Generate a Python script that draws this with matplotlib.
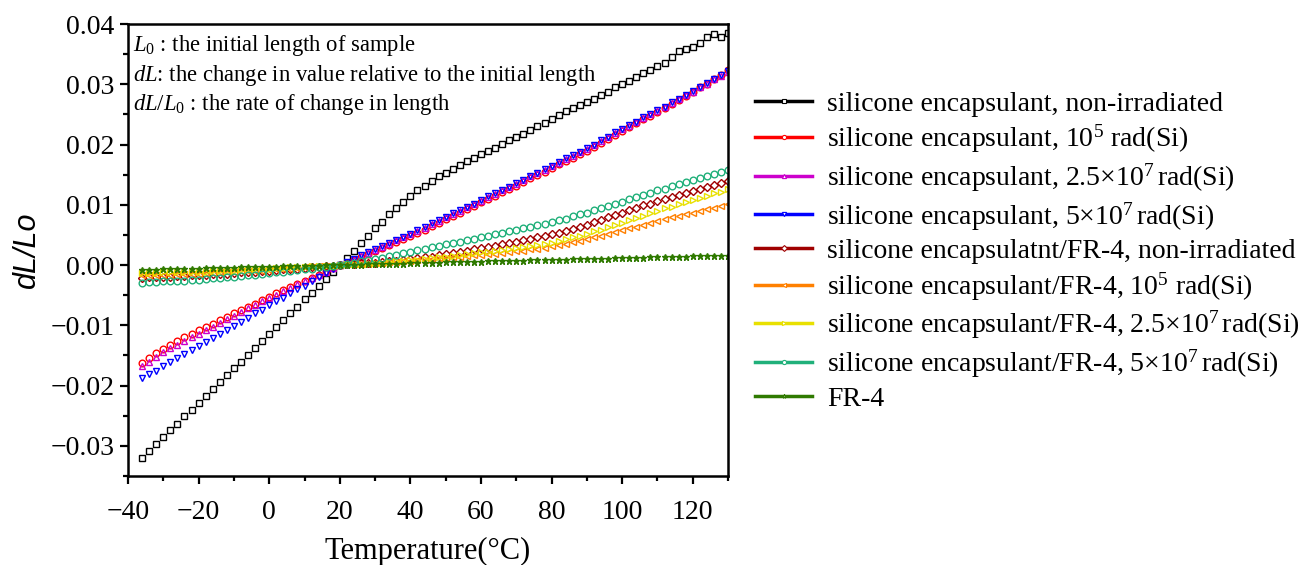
import numpy as np
import matplotlib
matplotlib.use("Agg")
import matplotlib.pyplot as plt
from matplotlib.lines import Line2D
from matplotlib.ticker import MultipleLocator

plt.rcParams["font.family"] = ["Liberation Serif", "DejaVu Serif"]
plt.rcParams["mathtext.fontset"] = "custom"
plt.rcParams["mathtext.rm"] = "Liberation Serif"
plt.rcParams["mathtext.it"] = "Liberation Serif:italic"

# temperature (°C), one reading every 2 degrees
temperature = np.arange(-36, 131, 2)

si_non_irr = [
    -0.0320, -0.0309, -0.0297, -0.0286, -0.0274, -0.0263, -0.0251, -0.0240, -0.0229,
    -0.0217, -0.0206, -0.0194, -0.0183, -0.0171, -0.0160, -0.0149, -0.0137, -0.0126,
    -0.0114, -0.0103, -0.0091, -0.0080, -0.0069, -0.0057, -0.0046, -0.0034, -0.0023,
    -0.0011, 0.0000,
    0.0012, 0.0024, 0.0037, 0.0049, 0.0061, 0.0072, 0.0084, 0.0095, 0.0105, 0.0115,
    0.0124, 0.0132, 0.0140, 0.0147, 0.0153, 0.0160, 0.0166, 0.0172, 0.0178, 0.0184,
    0.0189, 0.0195, 0.0201, 0.0207, 0.0212, 0.0218, 0.0224, 0.0230, 0.0236, 0.0243,
    0.0249, 0.0255, 0.0260, 0.0266, 0.0271, 0.0276, 0.0282, 0.0288, 0.0295, 0.0301,
    0.0306, 0.0312, 0.0318, 0.0324, 0.0330, 0.0336, 0.0346, 0.0355, 0.0358, 0.0362,
    0.0368, 0.0378, 0.0383, 0.0379, 0.0385,
]
si_1e5 = [
    -0.0163, -0.0154, -0.0146, -0.0139, -0.0132, -0.0126, -0.0120, -0.0114, -0.0108,
    -0.0102, -0.0097, -0.0091, -0.0086, -0.0080, -0.0075, -0.0069, -0.0064, -0.0058,
    -0.0053, -0.0047, -0.0042, -0.0037, -0.0031, -0.0026, -0.0021, -0.0016, -0.0010,
    -0.0005, 0.0000,
    0.0004, 0.0008, 0.0013, 0.0018, 0.0023, 0.0028, 0.0033, 0.0038, 0.0043, 0.0048,
    0.0054, 0.0059, 0.0065, 0.0070, 0.0076, 0.0082, 0.0087, 0.0093, 0.0098, 0.0104,
    0.0110, 0.0115, 0.0121, 0.0126, 0.0132, 0.0138, 0.0144, 0.0149, 0.0155, 0.0161,
    0.0167, 0.0173, 0.0178, 0.0184, 0.0190, 0.0196, 0.0203, 0.0209, 0.0216, 0.0222,
    0.0229, 0.0235, 0.0242, 0.0248, 0.0254, 0.0261, 0.0268, 0.0274, 0.0281, 0.0288,
    0.0295, 0.0301, 0.0308, 0.0315, 0.0323,
]
si_25e7 = [
    -0.0168, -0.0160, -0.0152, -0.0145, -0.0138, -0.0132, -0.0126, -0.0120, -0.0114,
    -0.0108, -0.0102, -0.0096, -0.0090, -0.0084, -0.0078, -0.0072, -0.0066, -0.0060,
    -0.0055, -0.0049, -0.0043, -0.0038, -0.0032, -0.0027, -0.0021, -0.0016, -0.0011,
    -0.0005, 0.0000,
    0.0005, 0.0009, 0.0015, 0.0020, 0.0025, 0.0030, 0.0035, 0.0041, 0.0046, 0.0051,
    0.0057, 0.0062, 0.0068, 0.0073, 0.0079, 0.0085, 0.0090, 0.0096, 0.0101, 0.0107,
    0.0113, 0.0118, 0.0124, 0.0129, 0.0135, 0.0141, 0.0147, 0.0152, 0.0158, 0.0164,
    0.0170, 0.0176, 0.0181, 0.0187, 0.0193, 0.0199, 0.0206, 0.0212, 0.0219, 0.0225,
    0.0231, 0.0237, 0.0244, 0.0250, 0.0256, 0.0262, 0.0269, 0.0275, 0.0282, 0.0288,
    0.0295, 0.0301, 0.0308, 0.0314, 0.0321,
]
si_5e7 = [
    -0.0188, -0.0181, -0.0175, -0.0168, -0.0161, -0.0154, -0.0148, -0.0141, -0.0134,
    -0.0127, -0.0121, -0.0114, -0.0107, -0.0101, -0.0094, -0.0087, -0.0080, -0.0074,
    -0.0067, -0.0060, -0.0054, -0.0047, -0.0040, -0.0034, -0.0027, -0.0020, -0.0013,
    -0.0007, 0.0000,
    0.0005, 0.0010, 0.0016, 0.0021, 0.0026, 0.0031, 0.0036, 0.0042, 0.0047, 0.0052,
    0.0058, 0.0063, 0.0069, 0.0074, 0.0080, 0.0086, 0.0091, 0.0097, 0.0102, 0.0108,
    0.0114, 0.0119, 0.0125, 0.0130, 0.0136, 0.0142, 0.0148, 0.0153, 0.0159, 0.0165,
    0.0171, 0.0177, 0.0182, 0.0188, 0.0194, 0.0200, 0.0207, 0.0213, 0.0220, 0.0226,
    0.0232, 0.0238, 0.0245, 0.0251, 0.0257, 0.0263, 0.0270, 0.0276, 0.0283, 0.0289,
    0.0296, 0.0302, 0.0309, 0.0315, 0.0322,
]
fr4_si_non_irr = [
    -0.0021, -0.0020, -0.0020, -0.0019, -0.0019, -0.0018, -0.0018, -0.0017, -0.0017,
    -0.0016, -0.0015, -0.0015, -0.0014, -0.0013, -0.0012, -0.0011, -0.0011, -0.0010,
    -0.0009, -0.0008, -0.0007, -0.0006, -0.0006, -0.0005, -0.0004, -0.0003, -0.0002,
    -0.0001, 0.0000,
    0.0001, 0.0002, 0.0003, 0.0003, 0.0004, 0.0005, 0.0006, 0.0007, 0.0009, 0.0010,
    0.0011, 0.0013, 0.0014, 0.0016, 0.0018, 0.0020, 0.0022, 0.0024, 0.0026, 0.0028,
    0.0030, 0.0032, 0.0035, 0.0037, 0.0039, 0.0041, 0.0044, 0.0046, 0.0049, 0.0051,
    0.0054, 0.0057, 0.0060, 0.0064, 0.0067, 0.0071, 0.0075, 0.0079, 0.0083, 0.0087,
    0.0091, 0.0095, 0.0099, 0.0102, 0.0106, 0.0109, 0.0113, 0.0116, 0.0120, 0.0123,
    0.0126, 0.0130, 0.0133, 0.0137, 0.0140,
]
fr4_si_1e5 = [
    -0.0017, -0.0017, -0.0016, -0.0016, -0.0016, -0.0015, -0.0015, -0.0015, -0.0014,
    -0.0013, -0.0013, -0.0012, -0.0012, -0.0011, -0.0010, -0.0010, -0.0009, -0.0009,
    -0.0008, -0.0007, -0.0006, -0.0006, -0.0005, -0.0004, -0.0003, -0.0002, -0.0002,
    -0.0001, 0.0000,
    0.0001, 0.0001, 0.0002, 0.0002, 0.0003, 0.0004, 0.0005, 0.0005, 0.0006, 0.0007,
    0.0008, 0.0009, 0.0010, 0.0011, 0.0012, 0.0013, 0.0014, 0.0015, 0.0016, 0.0017,
    0.0018, 0.0019, 0.0020, 0.0022, 0.0023, 0.0024, 0.0026, 0.0027, 0.0029, 0.0031,
    0.0033, 0.0035, 0.0038, 0.0040, 0.0043, 0.0046, 0.0049, 0.0052, 0.0055, 0.0058,
    0.0061, 0.0064, 0.0067, 0.0070, 0.0073, 0.0076, 0.0079, 0.0081, 0.0084, 0.0087,
    0.0090, 0.0093, 0.0095, 0.0098, 0.0101,
]
fr4_si_25e7 = [
    -0.0013, -0.0013, -0.0013, -0.0012, -0.0012, -0.0012, -0.0012, -0.0011, -0.0011,
    -0.0011, -0.0010, -0.0010, -0.0009, -0.0009, -0.0008, -0.0008, -0.0007, -0.0007,
    -0.0006, -0.0005, -0.0005, -0.0004, -0.0004, -0.0003, -0.0002, -0.0002, -0.0001,
    -0.0001, 0.0000,
    0.0001, 0.0001, 0.0002, 0.0002, 0.0003, 0.0004, 0.0005, 0.0006, 0.0007, 0.0008,
    0.0009, 0.0010, 0.0011, 0.0013, 0.0014, 0.0015, 0.0017, 0.0018, 0.0020, 0.0021,
    0.0022, 0.0024, 0.0025, 0.0027, 0.0028, 0.0030, 0.0032, 0.0033, 0.0035, 0.0037,
    0.0040, 0.0043, 0.0046, 0.0049, 0.0052, 0.0056, 0.0059, 0.0063, 0.0066, 0.0070,
    0.0074, 0.0078, 0.0082, 0.0086, 0.0090, 0.0094, 0.0097, 0.0101, 0.0104, 0.0108,
    0.0112, 0.0115, 0.0119, 0.0122, 0.0126,
]
fr4_si_5e7 = [
    -0.0029, -0.0028, -0.0028, -0.0027, -0.0027, -0.0026, -0.0026, -0.0025, -0.0024,
    -0.0023, -0.0022, -0.0021, -0.0020, -0.0019, -0.0018, -0.0017, -0.0016, -0.0014,
    -0.0013, -0.0012, -0.0011, -0.0010, -0.0008, -0.0007, -0.0006, -0.0004, -0.0003,
    -0.0001, 0.0000,
    0.0002, 0.0004, 0.0006, 0.0008, 0.0010, 0.0012, 0.0015, 0.0017, 0.0020, 0.0022,
    0.0025, 0.0027, 0.0030, 0.0032, 0.0035, 0.0037, 0.0039, 0.0042, 0.0044, 0.0046,
    0.0048, 0.0051, 0.0053, 0.0056, 0.0058, 0.0061, 0.0063, 0.0066, 0.0068, 0.0071,
    0.0074, 0.0077, 0.0081, 0.0084, 0.0087, 0.0091, 0.0094, 0.0098, 0.0101, 0.0105,
    0.0109, 0.0113, 0.0117, 0.0120, 0.0124, 0.0127, 0.0131, 0.0134, 0.0138, 0.0141,
    0.0144, 0.0148, 0.0151, 0.0155, 0.0158,
]
fr4 = [
    -0.00080, -0.00077, -0.00074, -0.00071, -0.00069, -0.00066, -0.00063, -0.00060,
    -0.00057, -0.00054, -0.00051, -0.00049, -0.00046, -0.00043, -0.00040, -0.00037,
    -0.00034, -0.00031, -0.00029, -0.00026, -0.00023, -0.00020, -0.00017, -0.00014,
    -0.00011, -0.00009, -0.00006, -0.00003, 0.00000,
    0.00003, 0.00006, 0.00009, 0.00011, 0.00014, 0.00017, 0.00020, 0.00023, 0.00026,
    0.00029, 0.00031, 0.00034, 0.00037, 0.00040, 0.00043, 0.00046, 0.00049, 0.00051,
    0.00054, 0.00057, 0.00060, 0.00063, 0.00066, 0.00069, 0.00071, 0.00074, 0.00077,
    0.00080, 0.00083, 0.00086, 0.00089, 0.00091, 0.00094, 0.00097, 0.00100, 0.00103,
    0.00106, 0.00109, 0.00111, 0.00114, 0.00117, 0.00120, 0.00123, 0.00126, 0.00129,
    0.00131, 0.00134, 0.00137, 0.00140, 0.00143, 0.00146, 0.00149, 0.00151, 0.00154,
    0.00157,
]

labels = [
    "silicone encapsulant, non-irradiated",
    r"silicone encapsulant, 10$^{5}$ rad(Si)",
    r"silicone encapsulant, 2.5×10$^{7}\,$rad(Si)",
    r"silicone encapsulant, 5×10$^{7}\,$rad(Si)",
    "silicone encapsulatnt/FR-4, non-irradiated",
    r"silicone encapsulant/FR-4, 10$^{5}$ rad(Si)",
    r"silicone encapsulant/FR-4, 2.5×10$^{7}\,$rad(Si)",
    r"silicone encapsulant/FR-4, 5×10$^{7}\,$rad(Si)",
    "FR-4",
]
series = [si_non_irr, si_1e5, si_25e7, si_5e7, fr4_si_non_irr,
          fr4_si_1e5, fr4_si_25e7, fr4_si_5e7, fr4]
colors = ["#000000", "#FF0000", "#CC00CC", "#0000FF", "#A00000",
          "#FF8000", "#E8E000", "#20B07A", "#2F7A00"]
markers = ["s", "o", "^", "v", "D", "<", ">", "o", "*"]

fig = plt.figure(figsize=(13.09, 5.65), dpi=100)
ax = fig.add_axes([0.0978, 0.1575, 0.4584, 0.8])

for vals, color, mk in zip(series, colors, markers):
    filled = color if mk == "*" else "none"
    ax.plot(temperature, vals, ls="none", marker=mk,
            ms=4.8 if mk != "D" else 4.0,
            mfc=filled, mec=color, mew=1.0)

ax.set_xlim(-40, 130)
ax.set_ylim(-0.035, 0.04)
ax.xaxis.set_major_locator(MultipleLocator(20))
ax.xaxis.set_minor_locator(MultipleLocator(10))
ax.yaxis.set_major_locator(MultipleLocator(0.01))
ax.yaxis.set_minor_locator(MultipleLocator(0.005))
ax.yaxis.set_major_formatter(matplotlib.ticker.FuncFormatter(
    lambda v, p: f"{v:.2f}".replace("-", "\u2212")))
ax.xaxis.set_major_formatter(matplotlib.ticker.FuncFormatter(
    lambda v, p: f"{v:.0f}".replace("-", "\u2212")))

for side in ax.spines.values():
    side.set_linewidth(1.8)
ax.tick_params(which="major", direction="out", length=6, width=1.6,
               labelsize=20, pad=4)
ax.tick_params(which="minor", direction="out", length=3.5, width=1.6)
ax.tick_params(axis="x", which="major", pad=11)

ax.set_xlabel("Temperature(°C)", fontsize=22, labelpad=9)
ax.set_ylabel("dL/Lo", fontsize=22, family="Liberation Sans", style="italic",
              labelpad=6)

notes = [
    r"$\mathit{L_0}$ : the initial length of sample",
    r"$\mathit{dL}$: the change in value relative to the initial length",
    r"$\mathit{dL/L_0}$ : the rate of change in length",
]
for i, note in enumerate(notes):
    ax.text(0.008, 0.953 - i * 0.066, note, transform=ax.transAxes,
            fontsize=16.3, va="center", ha="left")

handles = [Line2D([], [], color=c, lw=2.5, marker=m, ms=3, mfc="white",
                  mec=c, mew=0.8) for c, m in zip(colors, markers)]
fig.legend(handles, labels, loc="center left", bbox_to_anchor=(0.5768, 0.555),
           frameon=False, fontsize=20, handlelength=2.05, handletextpad=0.55,
           labelspacing=0.22, borderpad=0, borderaxespad=0)

fig.savefig("out.png", dpi=100)
plt.close(fig)
